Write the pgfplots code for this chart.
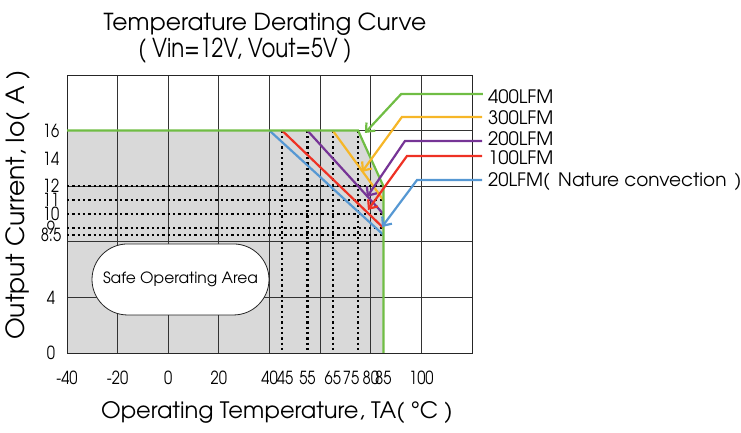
\documentclass[border=0pt]{standalone}
\usepackage{fontspec}
\setmainfont{texgyreadventor-regular.otf}
\newfontfamily\narrowfont[FakeStretch=0.82]{texgyreadventor-regular.otf}
\usepackage{pgfplots}
\pgfplotsset{compat=1.18}
\usetikzlibrary{arrows.meta,shapes.misc}

\definecolor{cgreen}{RGB}{112,189,68}
\definecolor{cyellow}{RGB}{246,182,40}
\definecolor{cpurple}{RGB}{118,52,150}
\definecolor{cred}{RGB}{238,49,36}
\definecolor{cblue}{RGB}{86,152,211}
\definecolor{cfill}{RGB}{217,217,217}

\newcommand\ticksfont{\narrowfont\fontsize{18}{18}\selectfont}
\newcommand\lblfont{\fontsize{18.5}{18.5}\selectfont}

\begin{document}
\begin{tikzpicture}
\begin{axis}[
  set layers,
  at={(0pt,0pt)}, anchor=south west,
  scale only axis, width=405pt, height=278pt,
  xmin=-40, xmax=120, ymin=0, ymax=20,
  clip=false,
  axis line style={line width=0.8pt, black!85},
  major tick length=0pt,
  xtick={-40,-20,0,20,40,60,80,100,120},
  xticklabels={-40,-20,0,20,40,,80,100,},
  extra x ticks={45,55,65,75,85},
  extra x tick labels={45\kern-6pt,55,65,\kern-14pt75,85},
  extra x tick style={grid=none},
  ytick={0,4,8,12,16,20},
  yticklabels={0,4,,12,16,},
  extra y ticks={8.5,9,10,11,14},
  extra y tick labels={8.5,9,10,11,14},
  extra y tick style={grid=none},
  grid=major,
  major grid style={line width=0.8pt, black!80},
  xticklabel style={font=\ticksfont, anchor=center, yshift=-25pt},
  yticklabel style={font=\ticksfont, anchor=center, xshift=-16pt},
]
% safe operating area (under the 400LFM curve)
\addplot[on layer=axis background, fill=cfill, draw=none]
  coordinates {(-40,0) (-40,16) (75,16) (85,12) (85,0)} \closedcycle;

% dotted guide lines
\addplot[black, line width=2.3pt, dash pattern=on 2.3pt off 3pt] coordinates {(-40,12) (85,12)};
\addplot[black, line width=2.3pt, dash pattern=on 2.3pt off 3pt] coordinates {(-40,11) (85,11)};
\addplot[black, line width=2.3pt, dash pattern=on 2.3pt off 3pt] coordinates {(-40,10) (85,10)};
\addplot[black, line width=2.3pt, dash pattern=on 2.3pt off 3pt] coordinates {(-40,9) (85,9)};
\addplot[black, line width=2.3pt, dash pattern=on 2.3pt off 3pt] coordinates {(-40,8.5) (85,8.5)};
\addplot[black, line width=2.3pt, dash pattern=on 2.3pt off 3pt] coordinates {(45,16) (45,0)};
\addplot[black, line width=2.3pt, dash pattern=on 2.3pt off 3pt] coordinates {(55,16) (55,0)};
\addplot[black, line width=2.3pt, dash pattern=on 2.3pt off 3pt] coordinates {(65,16) (65,0)};
\addplot[black, line width=2.3pt, dash pattern=on 2.3pt off 3pt] coordinates {(75,16) (75,0)};

\node[rounded rectangle, draw=black!85, line width=0.8pt, fill=white,
  minimum width=177pt, minimum height=71pt, inner sep=0pt,
  font=\fontsize{15.5}{15.5}\selectfont] at (axis cs:4.84,5.29) {Safe Operating Area};

% derating curves
\addplot[cblue, line width=2.2pt] coordinates {(40,16) (85,8.5)};
\addplot[cred, line width=2.2pt] coordinates {(45,16) (85,9)};
\addplot[cpurple, line width=2.2pt] coordinates {(55,16) (85,10)};
\addplot[cyellow, line width=2.2pt] coordinates {(65,16) (85,11)};
\addplot[cgreen, line width=2.2pt] coordinates {(-40,16) (75,16) (85,12) (85,0)};

% leaders
\addplot[cgreen, line width=2.2pt, -{Straight Barb[length=7pt,width=12pt]}]
  coordinates {(124.3,18.63) (92.0,18.63) (77.7,15.83)};
\addplot[cyellow, line width=2.2pt, -{Straight Barb[length=7pt,width=12pt]}]
  coordinates {(124.0,16.98) (92.3,16.98) (76.5,13.02)};
\addplot[cpurple, line width=2.2pt, -{Straight Barb[length=7pt,width=12pt]}]
  coordinates {(124.0,15.25) (93.5,15.25) (78.5,11.22)};
\addplot[cred, line width=2.2pt, -{Straight Barb[length=7pt,width=12pt]}]
  coordinates {(124.0,14.17) (94.3,14.17) (78.9,10.29)};
\addplot[cblue, line width=2.2pt, -{Straight Barb[length=7pt,width=12pt]}]
  coordinates {(124.0,12.45) (98.3,12.45) (84.4,9.06)};

\node[anchor=west, font=\lblfont, inner sep=0pt] at (axis cs:126.3,18.42) {400LFM};
\node[anchor=west, font=\lblfont, inner sep=0pt] at (axis cs:126.3,16.90) {300LFM};
\node[anchor=west, font=\lblfont, inner sep=0pt] at (axis cs:126.3,15.40) {200LFM};
\node[anchor=west, font=\lblfont, inner sep=0pt] at (axis cs:126.3,14.03) {100LFM};
\node[anchor=west, font=\lblfont, inner sep=0pt] at (axis cs:126.3,12.35) {20LFM(\, Nature convection\, )};
\end{axis}

\node[font=\fontsize{23.4}{23.4}\selectfont] at (198pt,329pt) {Temperature Derating Curve};
\node[font=\narrowfont\fontsize{26}{26}\selectfont] at (178pt,302pt) {( Vin=12V, Vout=5V )};
\node[font=\fontsize{22.6}{22.6}\selectfont] at (210pt,-60pt) {Operating Temperature, TA( °C )};
\node[font=\fontsize{25}{25}\selectfont, rotate=90] at (-49pt,148pt) {Output Current, Io( A )};
\pgfresetboundingbox
\path[use as bounding box] (-67pt,-80pt) rectangle (674pt,353pt);
\end{tikzpicture}
\end{document}
